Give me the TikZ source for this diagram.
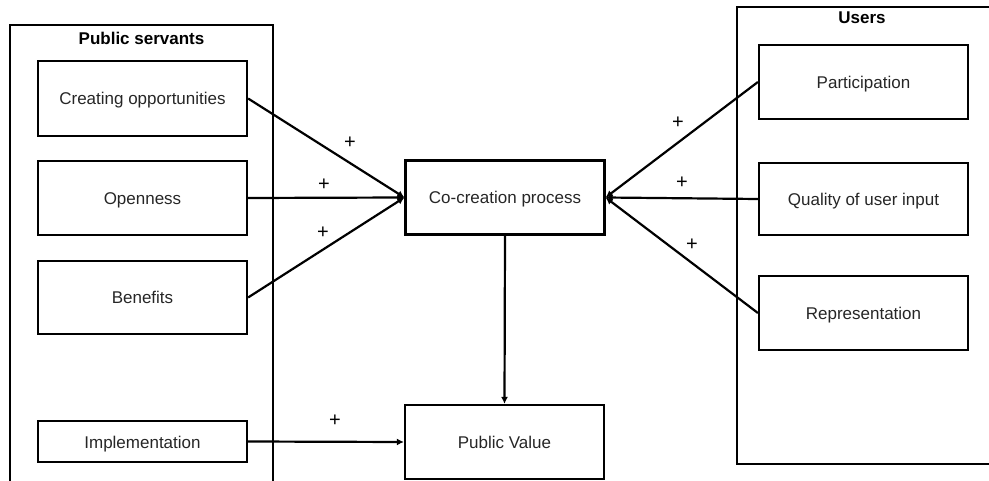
\documentclass[tikz,border=0pt]{standalone}
\usepackage{fontspec}
\setmainfont{Liberation Sans}
\usetikzlibrary{arrows.meta}
\begin{document}
\begin{tikzpicture}[x=1pt,y=-1pt,
  box/.style={draw=black,line width=2.2pt,rectangle,inner sep=0pt,text height=13pt,text depth=0pt,font=\fontsize{17}{19}\selectfont,text=black!85},
  frame/.style={draw=black,line width=2.2pt},
  title/.style={font=\fontsize{17}{19}\selectfont\bfseries,inner sep=0pt},
  conn/.style={line width=2.2pt,-{Latex[length=7pt,width=7pt]}},
  plus/.style={font=\fontsize{20}{22}\selectfont,inner sep=0pt}]
\useasboundingbox (0,0) rectangle (989,481);
\begin{scope}
\clip (0,0) rectangle (989,481);
\draw[frame] (10,25) rectangle (273,500);
\draw[frame] (737,7) rectangle (1000,464);
\end{scope}
\node[title] (ps) at (141.5,38) {Public servants};
\node[title] (us) at (862,18) {Users};
\node[box,minimum width=209pt,minimum height=75pt] (co) at (142.5,98.5) {Creating opportunities};
\node[box,minimum width=209pt,minimum height=74pt] (op) at (142.5,198) {Openness};
\node[box,minimum width=209pt,minimum height=73pt] (be) at (142.5,297.5) {Benefits};
\node[box,minimum width=209pt,minimum height=41pt] (im) at (142.5,441.5) {Implementation};
\node[box,minimum width=199pt,minimum height=74pt] (cc) at (505,197.5) {Co-creation process};
\node[box,minimum width=199pt,minimum height=74pt] (pv) at (504.5,442) {Public Value};
\node[box,minimum width=209pt,minimum height=74pt] (pa) at (863.5,82) {Participation};
\node[box,minimum width=209pt,minimum height=72pt] (qu) at (863.5,199) {Quality of user input};
\node[box,minimum width=209pt,minimum height=74pt] (re) at (863.5,313) {Representation};
\draw[conn] (co.east) -- (cc.west);
\draw[conn] (op.east) -- (cc.west);
\draw[conn] (be.east) -- (cc.west);
\draw[conn] (pa.west) -- (cc.east);
\draw[conn] (qu.west) -- (cc.east);
\draw[conn] (re.west) -- (cc.east);
\draw[conn] (cc.south) -- (pv.north);
\draw[conn] (im.east) -- (pv.west);
\node[plus] (p1) at (350,143) {+};
\node[plus] (p2) at (324,185) {+};
\node[plus] (p3) at (323,233) {+};
\node[plus] (p4) at (678,123) {+};
\node[plus] (p5) at (682,183) {+};
\node[plus] (p6) at (692,245) {+};
\node[plus] (p7) at (335,421) {+};
\end{tikzpicture}
\end{document}
